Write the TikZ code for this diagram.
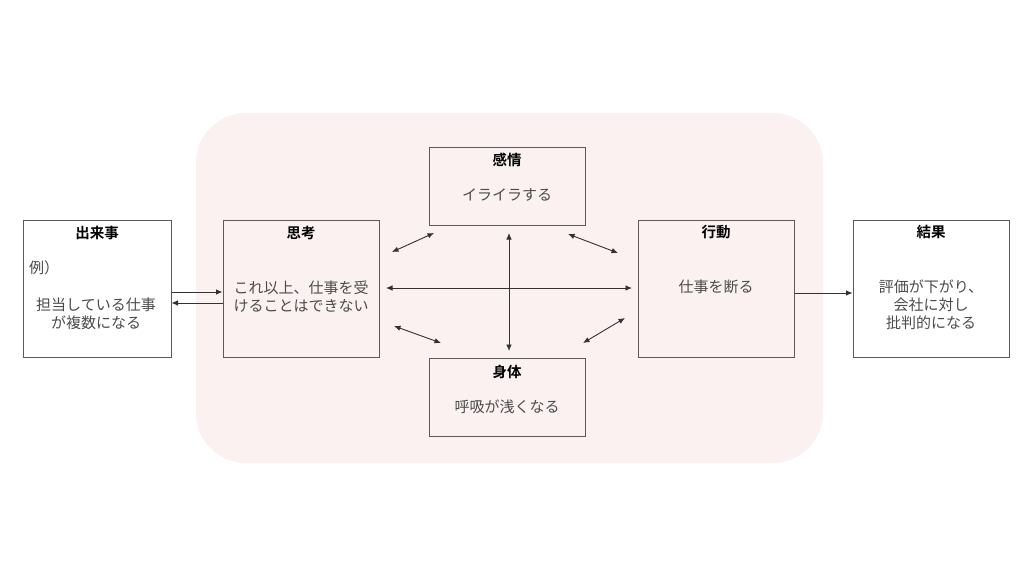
\documentclass[tikz,border=0pt]{standalone}
\usepackage{fontspec}
\setmainfont{Noto Sans CJK JP}[BoldFont={Noto Sans CJK JP Bold}]
\usetikzlibrary{arrows.meta}
\definecolor{bgpink}{RGB}{251,241,241}
\definecolor{boxline}{RGB}{90,90,90}
\definecolor{txt}{RGB}{75,75,75}
\definecolor{arr}{RGB}{50,50,50}
\tikzset{
  box/.style={draw=boxline, line width=1pt, inner sep=0pt},
  ttl/.style={font=\fontsize{14.5}{18}\selectfont\bfseries, text=black, inner sep=0pt, anchor=center},
  body/.style={font=\fontsize{15}{18}\selectfont, text=txt, inner sep=0pt, align=center, anchor=center},
  conn/.style={draw=arr, line width=0.9pt, -{Latex[length=6.5pt,width=5.5pt]}},
  dconn/.style={draw=arr, line width=0.9pt, {Latex[length=6.5pt,width=5.5pt]}-{Latex[length=6.5pt,width=5.5pt]}}
}
\begin{document}
\begin{tikzpicture}[x=1pt,y=-1pt]
\useasboundingbox (0,0) rectangle (1024,576);
\fill[white] (0,0) rectangle (1024,576);
% background region
\fill[bgpink, rounded corners=50pt] (196,113) rectangle (823,463);

% boxes
\node[box, minimum width=148pt, minimum height=137pt] (ev) at (97,288.5) {};
\node[box, minimum width=156pt, minimum height=137pt] (th) at (301,288.5) {};
\node[box, minimum width=156pt, minimum height=78pt] (em) at (507,186) {};
\node[box, minimum width=156pt, minimum height=78pt] (bo) at (507,397.5) {};
\node[box, minimum width=156pt, minimum height=137pt] (ac) at (716,288.5) {};
\node[box, minimum width=156pt, minimum height=137pt] (re) at (931,288.5) {};

% titles
\node[ttl] (evt) at (97,233) {出来事};
\node[ttl] (tht) at (301,233) {思考};
\node[ttl] (emt) at (507,160) {感情};
\node[ttl] (bot) at (507,372) {身体};
\node[ttl] (act) at (716,232) {行動};
\node[ttl] (ret) at (931,232) {結果};

% body texts
\node[body, anchor=west] (evx) at (29,268) {例）};
\node[body] (evb) at (96,313.5) {担当している仕事\\が複数になる};
\node[body] (thb) at (301,296.5) {これ以上、仕事を受\\けることはできない};
\node[body] (emb) at (507,195) {イライラする};
\node[body] (bob) at (507,407) {呼吸が浅くなる};
\node[body] (acb) at (716,287) {仕事を断る};
\node[body] (reb) at (931,305) {評価が下がり、\\会社に対し\\批判的になる};

% connector end points
\coordinate (a1s) at (392,252); \coordinate (a1e) at (434,233);
\coordinate (a2s) at (509,233); \coordinate (a2e) at (509,351);
\coordinate (a3s) at (568,234); \coordinate (a3e) at (618,253);
\coordinate (a4s) at (386,288); \coordinate (a4e) at (632,288);
\coordinate (a5s) at (394,326); \coordinate (a5e) at (441,343);
\coordinate (a6s) at (583,343); \coordinate (a6e) at (625,318);

% connectors
\draw[conn] ([yshift=-3.5pt]ev.east) -- ([yshift=-3.5pt]th.west);
\draw[conn] ([yshift=-14.5pt]th.west) -- ([yshift=-14.5pt]ev.east);
\draw[conn] (ac.east |- 0,293) coordinate (acr) -- (re.west |- acr);
\draw[dconn] (a1s) -- (a1e);
\draw[dconn] (a2s) -- (a2e);
\draw[dconn] (a3s) -- (a3e);
\draw[dconn] (a4s) -- (a4e);
\draw[dconn] (a5s) -- (a5e);
\draw[dconn] (a6s) -- (a6e);
\end{tikzpicture}
\end{document}
